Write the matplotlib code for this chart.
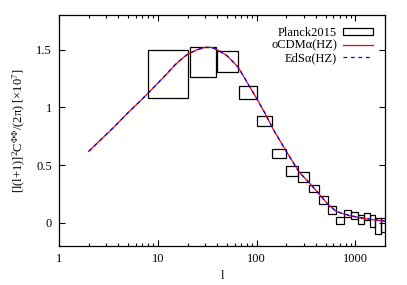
import matplotlib
matplotlib.use('Agg')
import matplotlib.pyplot as plt
import matplotlib.patches as mpatches
from matplotlib.lines import Line2D
from matplotlib.ticker import FixedLocator, NullFormatter, LogLocator

plt.rcParams['font.family'] = ['Liberation Serif', 'DejaVu Serif']
plt.rcParams['mathtext.fontset'] = 'custom'
plt.rcParams['mathtext.rm'] = 'Liberation Serif'
plt.rcParams['mathtext.it'] = 'Liberation Serif:italic'
plt.rcParams['mathtext.bf'] = 'Liberation Serif:bold'

# ── Planck 2015 lensing bandpowers (bin edges, centre, half-width) ──────────
bin_lo = [8, 21, 40, 66, 101, 145, 199, 264, 339, 426, 526, 638, 763, 902,
          1055, 1222, 1405, 1601, 1817]
bin_hi = [20, 39, 65, 100, 144, 198, 263, 338, 425, 525, 637, 762, 901, 1054,
          1221, 1404, 1600, 1816, 2048]
cl_pl  = [1.29, 1.39, 1.40, 1.13, 0.88, 0.60, 0.45, 0.40, 0.30, 0.20, 0.11,
          0.024, 0.08, 0.06, 0.03, 0.057, 0.015, -0.03, -0.015]
err_pl = [0.21, 0.13, 0.092, 0.06, 0.043, 0.042, 0.042, 0.043, 0.032, 0.035,
          0.033, 0.03, 0.03, 0.03, 0.04, 0.03, 0.055, 0.07, 0.06]

# ── model curves ─────────────────────────────────────────────────────────────
ell     = [2, 2.5, 3, 3.5, 4, 5, 6, 7, 8, 10, 12, 15, 18, 20, 25, 30, 35, 40,
           50, 65, 80, 100, 120, 150, 200, 270, 340, 430, 530, 640, 760, 900,
           1100, 1300, 1600, 2000]
cl_ocdm = [0.62, 0.70, 0.765, 0.82, 0.87, 0.955, 1.02, 1.075, 1.125, 1.21, 1.28,
           1.37, 1.43, 1.46, 1.50, 1.52, 1.52, 1.50, 1.45, 1.35, 1.22, 1.08,
           0.96, 0.80, 0.62, 0.44, 0.35, 0.25, 0.16, 0.10, 0.078, 0.06,
           0.045, 0.035, 0.024, 0.013]
cl_eds  = [0.62, 0.70, 0.765, 0.82, 0.87, 0.955, 1.02, 1.075, 1.125, 1.21, 1.28,
           1.37, 1.43, 1.46, 1.50, 1.52, 1.52, 1.50, 1.45, 1.35, 1.22, 1.08,
           0.96, 0.80, 0.62, 0.44, 0.35, 0.25, 0.16, 0.10, 0.079, 0.062,
           0.047, 0.037, 0.026, 0.016]

fig = plt.figure(figsize=(4.07, 2.85), dpi=100)
ax = fig.add_axes([0.145, 0.137, 0.801, 0.81])

for lo, hi, c, e in zip(bin_lo, bin_hi, cl_pl, err_pl):
    ax.add_patch(mpatches.Rectangle((lo, c - e), hi - lo, 2 * e,
                                    fill=False, edgecolor='black', lw=0.9,
                                    zorder=2))

ax.plot(ell, cl_ocdm, color='#ff0000', lw=0.9, zorder=3)
ax.plot(ell, cl_eds, color='#0000ff', lw=0.9, ls=(0, (3, 3)), zorder=4)

ax.set_xscale('log')
ax.set_xlim(1, 2000)
ax.set_ylim(-0.2, 1.8)
ax.xaxis.set_major_locator(FixedLocator([1, 10, 100, 1000]))
ax.set_xticklabels(['1', '10', '100', '1000'])
ax.xaxis.set_minor_locator(LogLocator(base=10, subs=range(2, 10)))
ax.xaxis.set_minor_formatter(NullFormatter())
ax.set_yticks([0, 0.5, 1, 1.5])
ax.set_yticklabels(['0', '0.5', '1', '1.5'])
ax.tick_params(which='both', direction='in', top=True, right=True,
               labelsize=9, width=0.8, pad=5)
ax.tick_params(which='major', length=4)
ax.tick_params(which='minor', length=2)
for s in ax.spines.values():
    s.set_linewidth(0.9)

ax.set_xlabel('l', fontsize=9, labelpad=4)
ax.set_ylabel(r'[l(l+1)]$^2$C$^{\Phi\Phi}$/(2π) [×10$^7$]', fontsize=9,
              labelpad=6)

handles = [mpatches.Rectangle((0, 0), 1, 1, fill=False, edgecolor='black',
                              lw=0.9),
           Line2D([], [], color='#ff0000', lw=0.9),
           Line2D([], [], color='#0000ff', lw=0.9, ls=(0, (3, 3)))]
ax.legend(handles, ['Planck2015', 'oCDMα(HZ)', 'EdSα(HZ)'], loc='upper right',
          frameon=False, markerfirst=False, fontsize=9, handlelength=2.4,
          handleheight=0.5, handletextpad=0.5, labelspacing=0.05,
          borderaxespad=0.55)

fig.savefig('out.png', dpi=100)
